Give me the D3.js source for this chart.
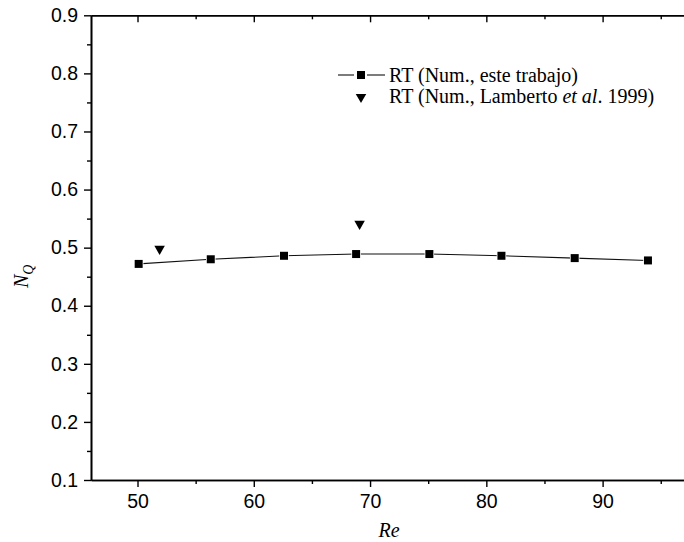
<!DOCTYPE html>
<html>
<head>
<meta charset="utf-8">
<script src="https://cdn.jsdelivr.net/npm/d3@7"></script>
<style>
    body { margin: 0; background: #fff; }
</style>
</head>
<body>
<div id="chart-area"></div>
<script>
// RT (Num., este trabajo)
var reThis = [50.1, 56.3, 62.6, 68.8, 75.1, 81.3, 87.6, 93.9];
var nqThis = [0.472, 0.480, 0.486, 0.489, 0.489, 0.486, 0.482, 0.478];

// RT (Num., Lamberto et al. 1999)
var reLamb = [51.9, 69.1];
var nqLamb = [0.498, 0.541];

var xTicks = [50, 60, 70, 80, 90];
var xMinor = [55, 65, 75, 85, 95];
var yTicks = [0.1, 0.2, 0.3, 0.4, 0.5, 0.6, 0.7, 0.8, 0.9];
var yMinor = [0.15, 0.25, 0.35, 0.45, 0.55, 0.65, 0.75, 0.85];

var width = 684;
var height = 542;

var svg = d3.select("#chart-area")
    .append("svg")
    .attr("width", width)
    .attr("height", height);

var x = d3.scaleLinear()
    .domain([46, 97])
    .range([91, 684]);

var y = d3.scaleLinear()
    .domain([0.1, 0.9])
    .range([480, 15.3]);

var sans = "'Liberation Sans', Arial, sans-serif";
var serif = "'Liberation Serif', 'Times New Roman', serif";

function styleAxis(g) {
    g.select(".domain").attr("stroke", "#000").attr("stroke-width", 1.6);
    g.selectAll(".tick line").attr("stroke", "#000").attr("stroke-width", 1.4);
    g.selectAll("text")
        .attr("fill", "#000")
        .style("font-family", sans)
        .style("font-size", "19.5px");
}

// bottom axis
svg.append("g")
    .attr("transform", "translate(0,480)")
    .call(d3.axisBottom(x).tickValues(xTicks).tickSize(7).tickPadding(7).tickSizeOuter(0))
    .call(styleAxis);
svg.append("g")
    .attr("transform", "translate(0,480)")
    .call(d3.axisBottom(x).tickValues(xMinor).tickSize(4).tickFormat("").tickSizeOuter(0))
    .call(styleAxis);

// top axis (ticks inward)
svg.append("g")
    .attr("transform", "translate(0,15.3)")
    .call(d3.axisBottom(x).tickValues(xTicks).tickSize(7).tickFormat("").tickSizeOuter(0))
    .call(styleAxis);
svg.append("g")
    .attr("transform", "translate(0,15.3)")
    .call(d3.axisBottom(x).tickValues(xMinor).tickSize(4).tickFormat("").tickSizeOuter(0))
    .call(styleAxis);

// left axis
svg.append("g")
    .attr("transform", "translate(91,0)")
    .call(d3.axisLeft(y).tickValues(yTicks).tickSize(7).tickPadding(6).tickSizeOuter(0)
        .tickFormat(d3.format(".1f")))
    .call(styleAxis);
svg.append("g")
    .attr("transform", "translate(91,0)")
    .call(d3.axisLeft(y).tickValues(yMinor).tickSize(4).tickFormat("").tickSizeOuter(0))
    .call(styleAxis);

// line + squares
var pts = reThis.map(function(d, i) {
    return { re: d, nq: nqThis[i] };
});

var line = d3.line()
    .x(function(d) { return x(d.re); })
    .y(function(d) { return y(d.nq); });

svg.append("path")
    .datum(pts)
    .attr("d", line)
    .attr("fill", "none")
    .attr("stroke", "#111")
    .attr("stroke-width", 1.1);

var square = d3.symbol().type(d3.symbolSquare).size(64);
var tri = d3.symbol().type(d3.symbolTriangle).size(48);

svg.selectAll(".sq")
    .data(pts)
    .enter()
    .append("path")
    .attr("class", "sq")
    .attr("d", square)
    .attr("transform", function(d) {
        return "translate(" + x(d.re) + "," + y(d.nq) + ")";
    })
    .attr("fill", "#000")
    .attr("stroke", "#fff")
    .attr("stroke-width", 1.5)
    .attr("paint-order", "stroke");

var lamb = reLamb.map(function(d, i) {
    return { re: d, nq: nqLamb[i] };
});

svg.selectAll(".tri")
    .data(lamb)
    .enter()
    .append("path")
    .attr("class", "tri")
    .attr("d", tri)
    .attr("transform", function(d) {
        return "translate(" + x(d.re) + "," + y(d.nq) + ") rotate(180)";
    })
    .attr("fill", "#000");

// legend
var lg = svg.append("g");
lg.append("line")
    .attr("x1", 338).attr("x2", 354).attr("y1", 75).attr("y2", 75)
    .attr("stroke", "#111").attr("stroke-width", 1.1);
lg.append("line")
    .attr("x1", 367).attr("x2", 385).attr("y1", 75).attr("y2", 75)
    .attr("stroke", "#111").attr("stroke-width", 1.1);
lg.append("path")
    .attr("d", square)
    .attr("transform", "translate(361,75)")
    .attr("fill", "#000");
lg.append("path")
    .attr("d", tri)
    .attr("transform", "translate(361,97) rotate(180)")
    .attr("fill", "#000");

lg.append("text")
    .attr("x", 389).attr("y", 82)
    .style("font-family", serif).style("font-size", "20px")
    .text("RT (Num., este trabajo)");

var t2 = lg.append("text")
    .attr("x", 389).attr("y", 103)
    .style("font-family", serif).style("font-size", "20px");
t2.append("tspan").text("RT (Num., Lamberto ");
t2.append("tspan").style("font-style", "italic").text("et al");
t2.append("tspan").text(". 1999)");

// axis titles
svg.append("text")
    .attr("x", 389).attr("y", 537)
    .attr("text-anchor", "middle")
    .style("font-family", serif).style("font-size", "20px").style("font-style", "italic")
    .text("Re");

var yl = svg.append("text")
    .attr("transform", "translate(28,288) rotate(-90)")
    .style("font-family", serif).style("font-style", "italic");
yl.append("tspan").style("font-size", "20px").text("N");
yl.append("tspan").style("font-size", "14px").attr("dy", 5).text("Q");
</script>
</body>
</html>
